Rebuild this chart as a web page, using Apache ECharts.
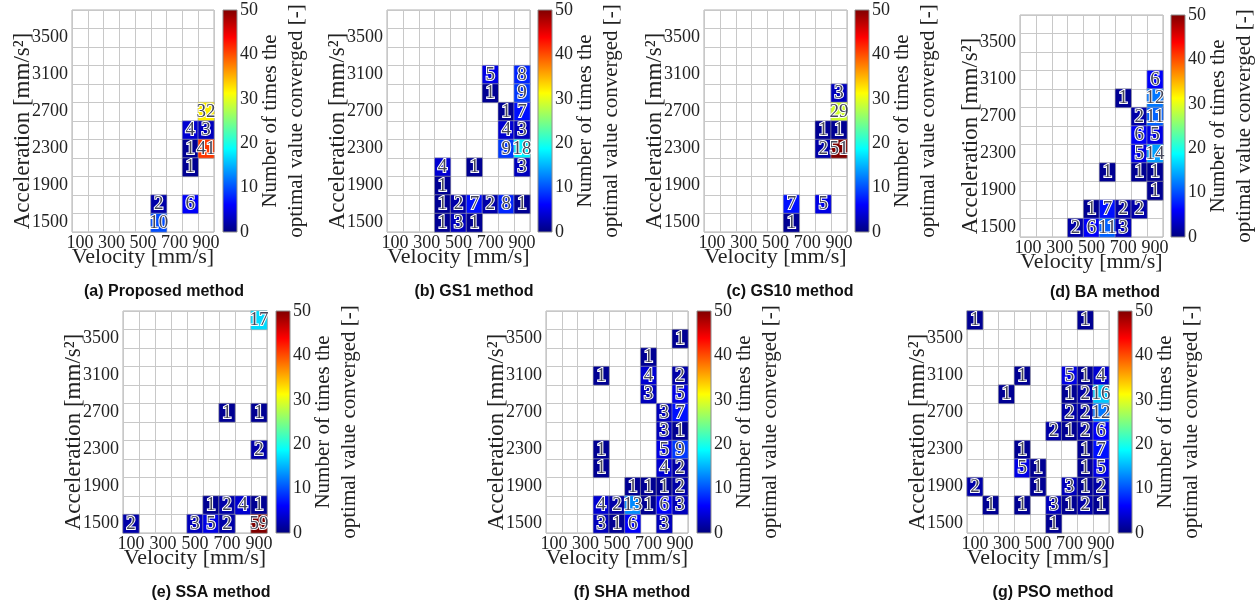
<!DOCTYPE html>
<html>
<head>
<meta charset="utf-8">
<title>Convergence count maps</title>
<script src="https://cdn.jsdelivr.net/npm/echarts@6/dist/echarts.min.js"></script>
<style>
  html, body { margin: 0; padding: 0; background: #fff; }
  #chart { width: 1259px; height: 607px; }
</style>
</head>
<body>
<div id="chart"></div>
<script>
// velocity [mm/s] and acceleration [mm/s^2] categories
var velocities = [100, 200, 300, 400, 500, 600, 700, 800, 900];
var accelerations = [1500, 1700, 1900, 2100, 2300, 2500, 2700, 2900, 3100, 3300, 3500, 3700];

// [velocity, acceleration, count]
var proposedData = [[900,2700,32],[800,2500,4],[900,2500,3],[800,2300,1],[900,2300,41],[800,2100,1],
	[600,1700,2],[800,1700,6],[600,1500,10]];
var gs1Data = [[700,3100,5],[900,3100,8],[700,2900,1],[900,2900,9],[800,2700,1],[900,2700,7],
	[800,2500,4],[900,2500,3],[800,2300,9],[900,2300,18],[400,2100,4],[600,2100,1],[900,2100,3],
	[400,1900,1],[400,1700,1],[500,1700,2],[600,1700,7],[700,1700,2],[800,1700,8],[900,1700,1],
	[400,1500,1],[500,1500,3],[600,1500,1]];
var gs10Data = [[900,2900,3],[900,2700,29],[800,2500,1],[900,2500,1],[800,2300,2],[900,2300,51],
	[600,1700,7],[800,1700,5],[600,1500,1]];
var baData = [[900,3100,6],[700,2900,1],[900,2900,12],[800,2700,2],[900,2700,11],[800,2500,6],
	[900,2500,5],[800,2300,5],[900,2300,14],[600,2100,1],[800,2100,1],[900,2100,1],[900,1900,1],
	[500,1700,1],[600,1700,7],[700,1700,2],[800,1700,2],[400,1500,2],[500,1500,6],[600,1500,11],
	[700,1500,3]];
var ssaData = [[900,3700,17],[700,2700,1],[900,2700,1],[900,2300,2],[600,1700,1],[700,1700,2],
	[800,1700,4],[900,1700,1],[100,1500,2],[500,1500,3],[600,1500,5],[700,1500,2],[900,1500,59]];
var shaData = [[900,3500,1],[700,3300,1],[400,3100,1],[700,3100,4],[900,3100,2],[700,2900,3],
	[900,2900,5],[800,2700,3],[900,2700,7],[800,2500,3],[900,2500,1],[400,2300,1],[800,2300,5],
	[900,2300,9],[400,2100,1],[800,2100,4],[900,2100,2],[600,1900,1],[700,1900,1],[800,1900,1],
	[900,1900,2],[400,1700,4],[500,1700,2],[600,1700,13],[700,1700,1],[800,1700,6],[900,1700,3],
	[400,1500,3],[500,1500,1],[600,1500,6],[800,1500,3]];
var psoData = [[100,3700,1],[800,3700,1],[400,3100,1],[700,3100,5],[800,3100,1],[900,3100,4],
	[300,2900,1],[700,2900,1],[800,2900,2],[900,2900,16],[700,2700,2],[800,2700,2],[900,2700,12],
	[600,2500,2],[700,2500,1],[800,2500,2],[900,2500,6],[400,2300,1],[800,2300,1],[900,2300,7],
	[400,2100,5],[500,2100,1],[800,2100,1],[900,2100,5],[100,1900,2],[500,1900,1],[700,1900,3],
	[800,1900,1],[900,1900,2],[200,1700,1],[400,1700,1],[600,1700,3],[700,1700,1],[800,1700,2],
	[900,1700,1],[600,1500,1]];

var jet = ['#00007f', '#0000ff', '#007fff', '#00ffff', '#7fff7f', '#ffff00', '#ff7f00', '#ff0000', '#7f0000'];

var panels = [
	{ data: proposedData, caption: '(a) Proposed method', left: 72, top: 10, width: 142, cb: 223, capX: 164, capY: 292 },
	{ data: gs1Data, caption: '(b) GS1 method', left: 387, top: 10, width: 143, cb: 538, capX: 474, capY: 292 },
	{ data: gs10Data, caption: '(c) GS10 method', left: 704, top: 10, width: 143, cb: 855, capX: 790, capY: 292 },
	{ data: baData, caption: '(d) BA method', left: 1020, top: 15, width: 143, cb: 1171, capX: 1105, capY: 293 },
	{ data: ssaData, caption: '(e) SSA method', left: 123, top: 311, width: 144, cb: 276, capX: 211, capY: 593 },
	{ data: shaData, caption: '(f) SHA method', left: 546, top: 311, width: 142, cb: 697, capX: 632, capY: 593 },
	{ data: psoData, caption: '(g) PSO method', left: 967, top: 311, width: 142, cb: 1118, capX: 1053, capY: 593 }
];

var serif = '"Liberation Serif", "Times New Roman", serif';

function toCells(list) {
	var out = [];
	for (var i = 0; i < list.length; i++) {
		out.push([velocities.indexOf(list[i][0]), accelerations.indexOf(list[i][1]), list[i][2]]);
	}
	return out;
}

function jetGradient() {
	var stops = [];
	for (var i = 0; i < jet.length; i++) {
		stops.push({ offset: i / (jet.length - 1), color: jet[i] });
	}
	return new echarts.graphic.LinearGradient(0, 1, 0, 0, stops);
}

var grids = [], xAxes = [], yAxes = [], series = [], graphics = [], heatIdx = [];

for (var p = 0; p < panels.length; p++) {
	var pn = panels[p];
	var g = grids.length;

	// heatmap grid
	grids.push({
		left: pn.left, top: pn.top, width: pn.width, height: 222,
		show: true, backgroundColor: '#fff', borderColor: '#b0b0b0', borderWidth: 1,
		containLabel: false, outerBoundsMode: 'none'
	});
	xAxes.push({
		type: 'category', gridIndex: g, data: velocities.map(String),
		axisLine: { show: false }, axisTick: { show: false },
		axisLabel: { interval: 1, margin: 2, color: '#222', fontSize: 18, fontFamily: serif },
		splitLine: { show: true, interval: 0, lineStyle: { color: '#c8c8c8', width: 1 } },
		name: 'Velocity [mm/s]', nameLocation: 'middle', nameGap: 14, nameMoveOverlap: false,
		nameTextStyle: { color: '#222', fontSize: 22, fontFamily: serif }
	});
	yAxes.push({
		type: 'category', gridIndex: g, data: accelerations.map(String),
		axisLine: { show: false }, axisTick: { show: false },
		axisLabel: { interval: 1, margin: 4, color: '#222', fontSize: 18, fontFamily: serif },
		splitLine: { show: true, interval: 0, lineStyle: { color: '#c8c8c8', width: 1 } },
		name: 'Acceleration [mm/s\u00b2]', nameLocation: 'middle', nameGap: 38, nameMoveOverlap: false,
		nameTextStyle: { color: '#222', fontSize: 23, fontFamily: serif, padding: [0, 20, 0, 0] }
	});
	heatIdx.push(series.length);
	series.push({
		type: 'heatmap', xAxisIndex: g, yAxisIndex: g,
		data: toCells(pn.data),
		itemStyle: { borderColor: '#a8a8a8', borderWidth: 0.6 },
		label: {
			show: true, color: '#44465a', fontSize: 19, fontFamily: serif,
			textBorderColor: '#fff', textBorderWidth: 2,
			formatter: function (param) { return param.value[2]; }
		}
	});

	// colour bar grid
	var c = grids.length;
	grids.push({
		left: pn.cb, top: pn.top, width: 14, height: 222,
		show: true, backgroundColor: jetGradient(), borderColor: '#8c8c8c', borderWidth: 1,
		containLabel: false, outerBoundsMode: 'none'
	});
	xAxes.push({ type: 'value', gridIndex: c, show: false });
	yAxes.push({
		type: 'value', gridIndex: c, min: 0, max: 50, interval: 10, position: 'right',
		axisLine: { show: false }, axisTick: { show: false }, splitLine: { show: false },
		axisLabel: { margin: 3, color: '#222', fontSize: 18, fontFamily: serif },
		name: 'Number of times the\noptimal value converged [-]',
		nameLocation: 'middle', nameRotate: 90, nameGap: 20, nameMoveOverlap: false,
		nameTextStyle: { color: '#222', fontSize: 21, lineHeight: 26, fontFamily: serif }
	});

	graphics.push({
		type: 'text', x: pn.capX, y: pn.capY,
		style: {
			text: pn.caption, x: 0, y: 0, textAlign: 'center', textVerticalAlign: 'middle',
			font: 'bold 16px "Liberation Sans", Arial, sans-serif', fill: '#111'
		}
	});
}

var chartObj = echarts.init(document.getElementById('chart'));
var option = {
	animation: false,
	backgroundColor: '#fff',
	grid: grids,
	xAxis: xAxes,
	yAxis: yAxes,
	visualMap: {
		show: false, type: 'continuous', min: 0, max: 50, dimension: 2,
		seriesIndex: heatIdx,
		inRange: { color: jet }
	},
	graphic: graphics,
	series: series
};
chartObj.setOption(option);
</script>
</body>
</html>
